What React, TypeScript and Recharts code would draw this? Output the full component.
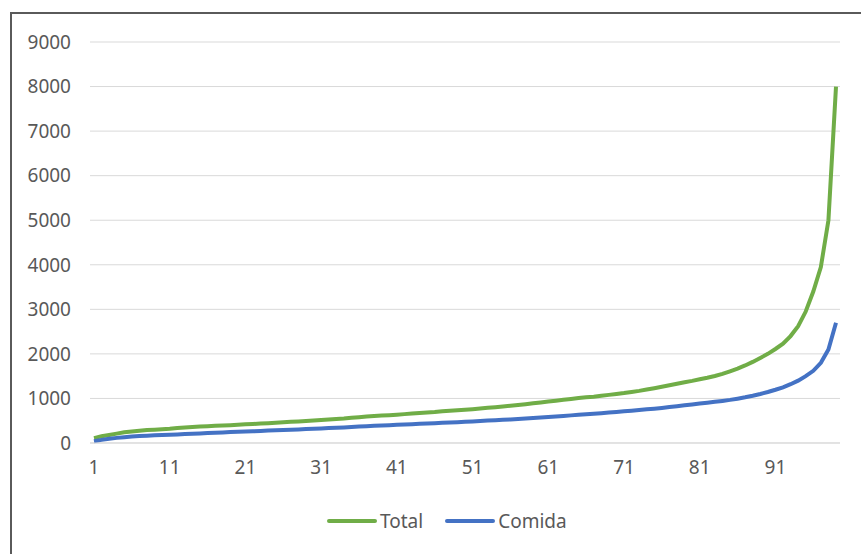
import React from "react"
import { LineChart, Line, XAxis, YAxis, CartesianGrid } from "recharts"

// Total spending per household, sorted ascending (1..99)
const totalValues: number[] = [
  110, 150, 180, 210, 240, 260, 275, 290, 300, 310,
  320, 335, 350, 360, 370, 378, 385, 393, 400, 410,
  420, 428, 435, 445, 455, 465, 475, 485, 495, 505,
  515, 528, 540, 550, 565, 580, 595, 605, 615, 625,
  635, 648, 660, 672, 685, 695, 710, 722, 735, 748,
  760, 775, 790, 805, 820, 838, 855, 872, 890, 910,
  930, 950, 970, 990, 1010, 1025, 1040, 1060, 1080, 1100,
  1120, 1145, 1170, 1200, 1230, 1262, 1295, 1330, 1365, 1395,
  1430, 1465, 1505, 1550, 1610, 1670, 1740, 1820, 1910, 2000,
  2110, 2230, 2400, 2620, 2950, 3400, 3950, 5000, 8000,
]

const comidaValues: number[] = [
  40, 70, 95, 115, 130, 145, 155, 165, 172, 180,
  186, 193, 200, 208, 215, 222, 230, 238, 245, 252,
  258, 264, 270, 278, 285, 292, 298, 305, 312, 320,
  328, 335, 343, 350, 360, 370, 378, 385, 393, 400,
  408, 415, 422, 430, 438, 445, 452, 460, 468, 477,
  485, 494, 503, 512, 521, 530, 540, 550, 560, 572,
  585, 597, 608, 620, 632, 645, 658, 670, 683, 697,
  710, 725, 740, 755, 770, 788, 806, 825, 845, 865,
  885, 905, 925, 945, 968, 995, 1025, 1060, 1100, 1145,
  1195, 1250, 1320, 1400, 1500, 1620, 1800, 2100, 2700,
]

const xTicks = [1, 11, 21, 31, 41, 51, 61, 71, 81, 91]
const yTicks = [0, 1000, 2000, 3000, 4000, 5000, 6000, 7000, 8000, 9000]

const data = totalValues.map((t, i) => ({ x: i + 1, total: t, comida: comidaValues[i] }))

const GREEN = "#70AD47"
const BLUE = "#4472C4"
const TEXT = "#595959"
const FONT = "'Noto Sans', sans-serif"

const legendItems = [
  { name: "Total", color: GREEN },
  { name: "Comida", color: BLUE },
]

function ChartLegend() {
  return (
    <div style={{ display: "flex", alignItems: "center", fontFamily: FONT, fontSize: 19, color: TEXT }}>
      {legendItems.map((it, i) => (
        <div key={it.name} style={{ display: "flex", alignItems: "center", marginRight: i === 0 ? 22 : 0 }}>
          <svg width={50} height={10} style={{ marginRight: 3 }}>
            <line x1={2} y1={5} x2={48} y2={5} stroke={it.color} strokeWidth={4} strokeLinecap="round" />
          </svg>
          <span>{it.name}</span>
        </div>
      ))}
    </div>
  )
}

export default function App() {
  return (
    <div style={{ position: "absolute", left: 0, top: 0, width: 861, height: 554, background: "#fff", overflow: "hidden" }}>
      <div
        style={{
          position: "absolute",
          left: 10,
          top: 12,
          width: 900,
          height: 600,
          borderTop: "2px solid #5a5a5a",
          borderLeft: "2px solid #5a5a5a",
        }}
      />
      <div style={{ position: "absolute", left: 0, top: 0 }}>
        <LineChart width={861} height={554} data={data} margin={{ top: 42, right: 21, bottom: 81, left: 0 }}>
          <CartesianGrid vertical={false} stroke="#d9d9d9" strokeWidth={1} />
          <XAxis
            dataKey="x"
            type="number"
            domain={[1, 99]}
            ticks={xTicks}
            padding={{ left: 4, right: 4 }}
            axisLine={{ stroke: "#d9d9d9" }}
            tickLine={false}
            tickSize={0}
            tickMargin={18}
            tick={{ fill: TEXT, fontSize: 19, fontFamily: FONT }}
            interval={0}
          />
          <YAxis
            width={90}
            domain={[0, 9000]}
            ticks={yTicks}
            axisLine={false}
            tickLine={false}
            tickSize={0}
            tickMargin={19}
            tick={{ fill: TEXT, fontSize: 19, fontFamily: FONT }}
            interval={0}
          />
          <Line
            type="linear"
            dataKey="total"
            name="Total"
            stroke={GREEN}
            strokeWidth={4}
            dot={false}
            isAnimationActive={false}
          />
          <Line
            type="linear"
            dataKey="comida"
            name="Comida"
            stroke={BLUE}
            strokeWidth={4}
            dot={false}
            isAnimationActive={false}
          />
        </LineChart>
      </div>
      <div style={{ position: "absolute", left: 327, top: 508 }}>
        <ChartLegend />
      </div>
    </div>
  )
}
